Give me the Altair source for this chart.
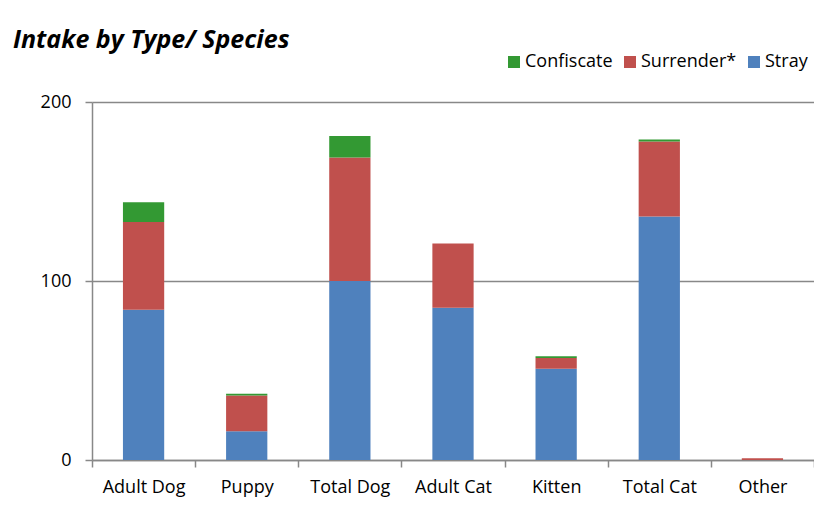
import altair as alt
import pandas as pd

categories = ["Adult Dog", "Puppy", "Total Dog", "Adult Cat", "Kitten", "Total Cat", "Other"]
stray = [84, 16, 100, 85, 51, 136, 0]
surrender = [49, 20, 69, 36, 6, 42, 1]
confiscate = [11, 1, 12, 0, 1, 1, 0]

series_names = ["Confiscate", "Surrender*", "Stray"]
series_colors = ["#339933", "#C0504D", "#4F81BD"]

rows = []
for i, c in enumerate(categories):
    rows.append({"cat": c, "series": "Stray", "value": stray[i], "rank": 0})
    rows.append({"cat": c, "series": "Surrender*", "value": surrender[i], "rank": 1})
    rows.append({"cat": c, "series": "Confiscate", "value": confiscate[i], "rank": 2})
df = pd.DataFrame(rows)

FONT = "Open Sans"

chart = alt.Chart(df).mark_bar(width=alt.RelativeBandSize(0.4)).encode(
    x=alt.X("cat:N", sort=categories, title=None,
            scale=alt.Scale(paddingInner=0, paddingOuter=0),
            axis=alt.Axis(labelAngle=0, tickBand="extent", tickSize=7,
                          labelPadding=11, labelFontSize=18, labelColor="#000000",
                          labelFont=FONT, domainColor="#888888", domainWidth=1.5,
                          tickColor="#888888", tickWidth=1.5, grid=False)),
    y=alt.Y("value:Q", stack="zero", title=None,
            scale=alt.Scale(domain=[0, 200], nice=False),
            axis=alt.Axis(values=[0, 100, 200], tickSize=7, labelPadding=14,
                          labelFontSize=18, labelColor="#000000", labelFont=FONT,
                          domainColor="#888888", domainWidth=1.5,
                          tickColor="#888888", tickWidth=1.5,
                          grid=True, gridColor="#888888", gridWidth=1.5)),
    color=alt.Color("series:N", title=None,
                    scale=alt.Scale(domain=series_names, range=series_colors),
                    legend=alt.Legend(orient="none", direction="horizontal",
                                      legendX=413, legendY=-49,
                                      symbolType="square", symbolSize=144,
                                      symbolStrokeWidth=0,
                                      labelFontSize=18, labelFont=FONT,
                                      labelColor="#000000", labelOffset=2,
                                      columnPadding=8)),
    order=alt.Order("rank:Q", sort="ascending"),
).properties(
    width=722,
    height=358,
    title=alt.TitleParams("Intake by Type/ Species", anchor="start", frame="group",
                          font=FONT, fontSize=25, fontWeight="bold", fontStyle="italic",
                          color="#000000", dx=-79, offset=0),
    padding={"left": 84, "top": 94, "right": 0, "bottom": 61},
    autosize=alt.AutoSizeParams(type="none"),
).configure_view(stroke=None)

chart.save("out.html", embed_options={"renderer": "svg", "actions": False})
